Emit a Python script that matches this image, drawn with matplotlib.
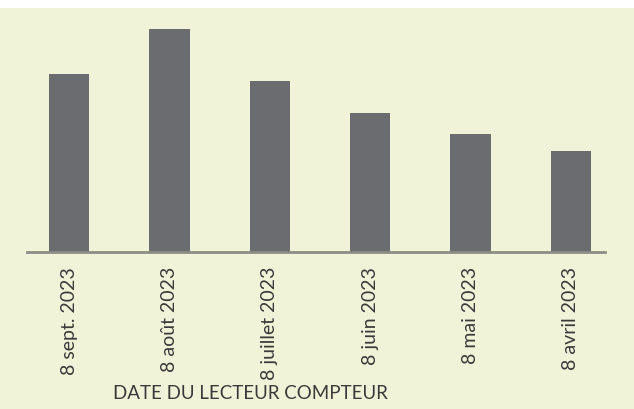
import matplotlib.pyplot as plt

dates = ["8 sept. 2023", "8 août 2023", "8 juillet 2023", "8 juin 2023", "8 mai 2023", "8 avril 2023"]
values = [178, 223, 171, 139, 118, 101]

bg = "#f0f3d8"
fig = plt.figure(figsize=(6.34, 4.10), dpi=100)
fig.patch.set_facecolor("white")
# light panel behind everything, white strip at top
fig.patches.append(plt.Rectangle((0, 0), 1, 1 - 9 / 410, transform=fig.transFigure,
                                 facecolor=bg, edgecolor="none", zorder=-1))

ax = fig.add_axes([27 / 634, (410 - 253) / 410, (605 - 27) / 634, (253 - 20) / 410])
ax.set_facecolor("none")
ax.bar(range(len(dates)), values, width=0.4, color="#6b6c70")
ax.set_xlim(-0.42, 5.34)
ax.set_ylim(0, 233)

for s in ["top", "right", "left"]:
    ax.spines[s].set_visible(False)
ax.spines["bottom"].set_color("#8c8d84")
ax.spines["bottom"].set_linewidth(2)
ax.set_yticks([])
ax.set_xticks(range(len(dates)))
ax.set_xticklabels(dates, rotation=90, fontsize=14, family="Lato", color="#3a3a3a")
ax.tick_params(axis="x", length=0, pad=10)
ax.set_xlabel("DATE DU LECTEUR COMPTEUR", fontsize=13.5, family="Lato", color="#3a3a3a")
ax.xaxis.set_label_coords((250 - 27) / 578, -132 / 233)

fig.savefig("out.png", dpi=100, facecolor=fig.get_facecolor())
